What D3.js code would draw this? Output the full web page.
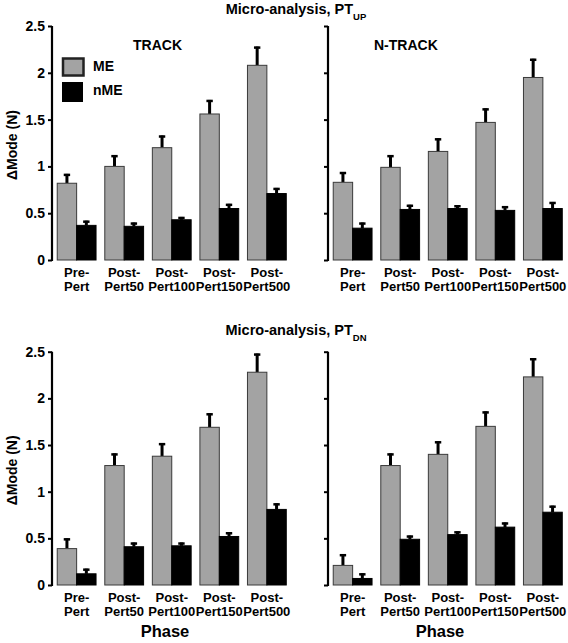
<!DOCTYPE html>
<html><head><meta charset="utf-8">
<script src="https://cdn.jsdelivr.net/npm/d3@7"></script>
<style>body{margin:0;background:#fff}svg{display:block}text{font-family:"Liberation Sans",Arial,sans-serif;font-weight:bold;fill:#000}</style>
</head><body><svg id="c" width="568" height="643"></svg>
<script>
const phases = ["Pre-|Pert","Post-|Pert50","Post-|Pert100","Post-|Pert150","Post-|Pert500"];
const yTicks = [0,0.5,1,1.5,2,2.5];
// PT_UP, TRACK
const upTrackME = [0.82,1.00,1.20,1.56,2.08];
const upTrackMEerr = [0.10,0.12,0.13,0.15,0.20];
const upTrackNME = [0.37,0.36,0.43,0.55,0.71];
const upTrackNMEerr = [0.05,0.04,0.03,0.05,0.06];
// PT_UP, N-TRACK
const upNTrackME = [0.83,0.99,1.16,1.47,1.95];
const upNTrackMEerr = [0.11,0.13,0.14,0.15,0.20];
const upNTrackNME = [0.34,0.54,0.55,0.53,0.55];
const upNTrackNMEerr = [0.06,0.05,0.035,0.045,0.07];
// PT_DN, TRACK
const dnTrackME = [0.39,1.28,1.38,1.69,2.28];
const dnTrackMEerr = [0.11,0.13,0.14,0.15,0.20];
const dnTrackNME = [0.12,0.41,0.42,0.52,0.81];
const dnTrackNMEerr = [0.055,0.045,0.035,0.045,0.065];
// PT_DN, N-TRACK
const dnNTrackME = [0.21,1.28,1.40,1.70,2.23];
const dnNTrackMEerr = [0.12,0.13,0.14,0.16,0.20];
const dnNTrackNME = [0.07,0.49,0.54,0.62,0.78];
const dnNTrackNMEerr = [0.055,0.04,0.035,0.05,0.07];

const svg = d3.select("#c");
const gray = "#a3a3a3";

const rows = [
  {top:26, bottom:260, title:"UP", titleY:14, panels:[
    {ax:52, label:"TRACK", me:upTrackME, meE:upTrackMEerr, n:upTrackNME, nE:upTrackNMEerr, legend:true},
    {ax:328, label:"N-TRACK", me:upNTrackME, meE:upNTrackMEerr, n:upNTrackNME, nE:upNTrackNMEerr}]},
  {top:351.7, bottom:585, title:"DN", titleY:335, phase:true, panels:[
    {ax:52, me:dnTrackME, meE:dnTrackMEerr, n:dnTrackNME, nE:dnTrackNMEerr},
    {ax:328, me:dnNTrackME, meE:dnNTrackMEerr, n:dnNTrackNME, nE:dnNTrackNMEerr}]}
];

rows.forEach(row=>{
  const y = d3.scaleLinear().domain([0,2.5]).range([row.bottom,row.top]);
  // title
  const t = svg.append("text").attr("x",296).attr("y",row.titleY).attr("text-anchor","middle").style("font-size","14.5px");
  t.append("tspan").text("Micro-analysis, PT");
  t.append("tspan").attr("dy",6).style("font-size","9.5px").text(row.title);
  // y label
  svg.append("text").attr("transform",`translate(17,${(row.top+row.bottom)/2+2}) rotate(-90)`)
    .attr("text-anchor","middle").style("font-size","14px").text("\u0394Mode (N)");
  row.panels.forEach((p,pi)=>{
    const x = d3.scaleBand().domain(phases).range([p.ax, p.ax+239.5]).paddingInner(0.184).paddingOuter(0.11);
    const xs = d3.scaleBand().domain(["ME","nME"]).range([0,x.bandwidth()]);
    // y axis
    const ya = svg.append("g").attr("transform",`translate(${p.ax},0)`)
      .call(d3.axisLeft(y).tickValues(yTicks).tickSize(4).tickPadding(3).tickFormat(d=>d3.format("")(d)));
    ya.select(".domain").attr("stroke","#000").attr("stroke-width",2.2).attr("d",`M0,${row.bottom+1}V${row.top}`);
    ya.selectAll(".tick line").attr("stroke","#000").attr("stroke-width",2);
    if(pi===0){
      ya.selectAll(".tick text").style("font-size","14px").style("font-family","Liberation Sans, Arial, sans-serif").style("font-weight","bold");
    } else {
      ya.selectAll(".tick text").remove();
    }
    const data = phases.map((c,i)=>({c, me:p.me[i], meE:p.meE[i], n:p.n[i], nE:p.nE[i]}));
    const g = svg.append("g");
    data.forEach(d=>{
      const bars = [{k:"ME",v:d.me,e:d.meE,fill:gray},{k:"nME",v:d.n,e:d.nE,fill:"#000"}];
      bars.forEach(b=>{
        const bx = x(d.c)+xs(b.k), bw = xs.bandwidth();
        const cx = bx+bw/2;
        // error bar
        g.append("line").attr("x1",cx).attr("x2",cx).attr("y1",y(b.v)).attr("y2",y(b.v+b.e))
          .attr("stroke","#000").attr("stroke-width",3);
        g.append("line").attr("x1",cx-3.2).attr("x2",cx+3.2).attr("y1",y(b.v+b.e)+1).attr("y2",y(b.v+b.e)+1)
          .attr("stroke","#000").attr("stroke-width",2.5);
        g.append("rect").attr("x",bx).attr("y",y(b.v)).attr("width",bw).attr("height",y(0)-y(b.v))
          .attr("fill",b.fill).attr("stroke",b.k==="ME"?"#3a3a3a":"#000").attr("stroke-width",1);
      });
      // category labels
      const parts = d.c.split("|");
      const lx = x(d.c)+x.bandwidth()/2;
      svg.append("text").attr("x",lx).attr("y",row.bottom+17).attr("text-anchor","middle").style("font-size","13px").text(parts[0]);
      svg.append("text").attr("x",lx).attr("y",row.bottom+31).attr("text-anchor","middle").style("font-size","13px").text(parts[1]);
    });
    if(p.label){
      svg.append("text").attr("x",p.ax+(pi===0?81:46)).attr("y",50).style("font-size","14px").text(p.label);
    }
    if(p.legend){
      svg.append("rect").attr("x",63).attr("y",58.5).attr("width",20.5).attr("height",17).attr("fill",gray).attr("stroke","#222").attr("stroke-width",2.5);
      svg.append("rect").attr("x",62).attr("y",82).attr("width",21).attr("height",20).attr("fill","#000");
      svg.append("text").attr("x",93).attr("y",71).style("font-size","14px").text("ME");
      svg.append("text").attr("x",93).attr("y",95).style("font-size","14px").text("nME");
    }
    if(row.phase){
      svg.append("text").attr("x",pi===0?165:440).attr("y",637).attr("text-anchor","middle").style("font-size","16.5px").text("Phase");
    }
  });
});
</script></body></html>
